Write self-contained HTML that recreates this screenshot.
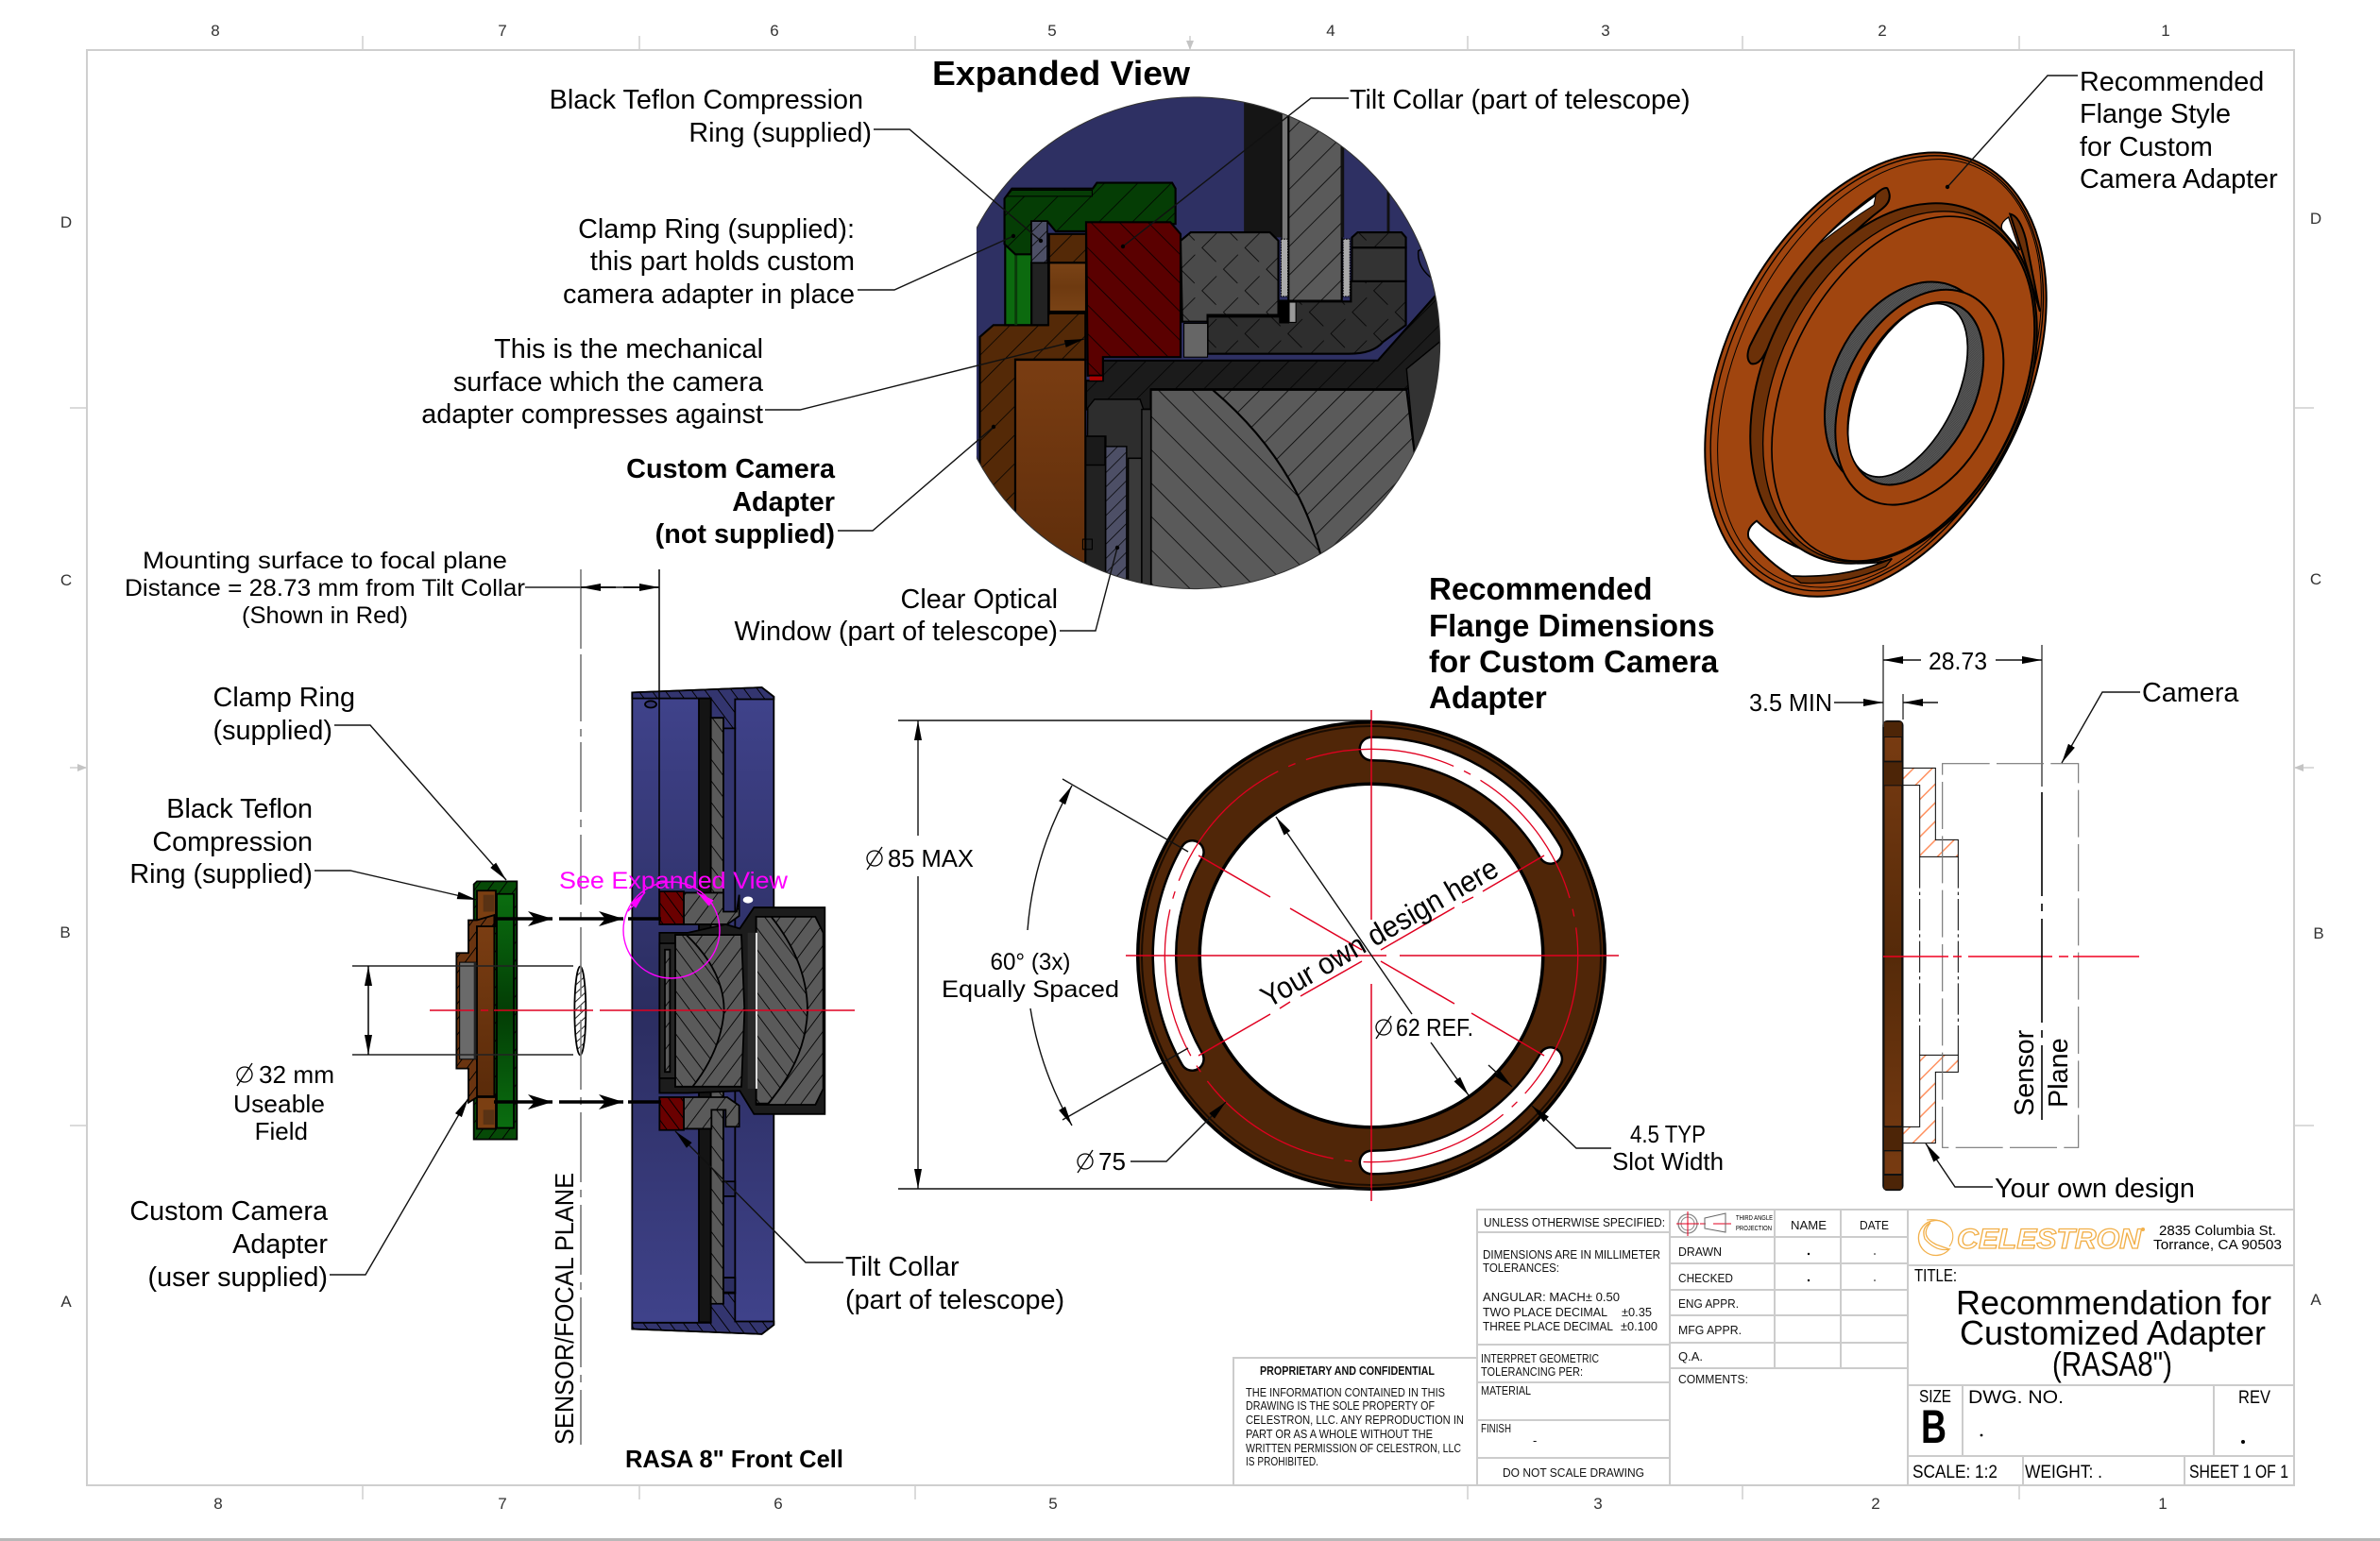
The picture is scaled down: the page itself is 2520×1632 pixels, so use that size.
<!DOCTYPE html>
<html><head><meta charset="utf-8"><title>RASA 8 Adapter Drawing</title>
<style>
html,body{margin:0;padding:0;background:#fff}
svg{display:block}
text{font-family:"Liberation Sans",sans-serif;fill:#000}
.l{font-size:28.8px}
.e{text-anchor:end}
.m{text-anchor:middle}
.b{font-weight:bold}
.z{font-size:17px;fill:#333}
.t{font-size:13px;fill:#111}
.nss *{vector-effect:non-scaling-stroke}
.lead{fill:none;stroke:#111;stroke-width:1.4}
.dia circle{fill:none;stroke:#000;stroke-width:1.3}
.dia line{stroke:#000;stroke-width:1.3}
</style></head><body>
<svg xmlns="http://www.w3.org/2000/svg" width="2520" height="1632" viewBox="0 0 2520 1632">
<defs>
<pattern id="gA" width="70" height="70" patternUnits="userSpaceOnUse" patternTransform="rotate(45)"><rect width="70" height="70" fill="#5a5a5a"/><line x1="0" y1="1" x2="70" y2="1" stroke="#000" stroke-width="2.5"/></pattern>
<pattern id="gB" width="60" height="60" patternUnits="userSpaceOnUse" patternTransform="rotate(-45)"><rect width="60" height="60" fill="#5a5a5a"/><line x1="0" y1="1" x2="60" y2="1" stroke="#000" stroke-width="2.5"/></pattern>
<pattern id="rA" width="60" height="60" patternUnits="userSpaceOnUse" patternTransform="rotate(45)"><rect width="60" height="60" fill="#5a0000"/><line x1="0" y1="1" x2="60" y2="1" stroke="#000" stroke-width="2.5"/></pattern>
<pattern id="grB" width="70" height="70" patternUnits="userSpaceOnUse" patternTransform="rotate(-45)"><rect width="70" height="70" fill="#053d05"/><line x1="0" y1="1" x2="70" y2="1" stroke="#000" stroke-width="2.5"/></pattern>
<pattern id="brB" width="60" height="60" patternUnits="userSpaceOnUse" patternTransform="rotate(-45)"><rect width="60" height="60" fill="#542907"/><line x1="0" y1="1" x2="60" y2="1" stroke="#000" stroke-width="2.5"/></pattern>
<pattern id="kB" width="60" height="60" patternUnits="userSpaceOnUse" patternTransform="rotate(-45)"><rect width="60" height="60" fill="#1b1b1b"/><line x1="0" y1="1" x2="60" y2="1" stroke="#000" stroke-width="2.5"/></pattern>
<pattern id="xG" width="90" height="90" patternUnits="userSpaceOnUse" patternTransform="rotate(45)"><rect width="90" height="90" fill="#4a4a4a"/><line x1="0" y1="1" x2="60" y2="1" stroke="#000" stroke-width="2"/><line x1="1" y1="30" x2="1" y2="90" stroke="#000" stroke-width="2"/></pattern>
<pattern id="xD" width="90" height="90" patternUnits="userSpaceOnUse" patternTransform="rotate(45)"><rect width="90" height="90" fill="#2e2e2e"/><line x1="0" y1="1" x2="60" y2="1" stroke="#000" stroke-width="2"/><line x1="1" y1="30" x2="1" y2="90" stroke="#000" stroke-width="2"/></pattern>
<pattern id="bB" width="30" height="30" patternUnits="userSpaceOnUse" patternTransform="rotate(-45)"><rect width="30" height="30" fill="#4d4f66"/><line x1="0" y1="1" x2="30" y2="1" stroke="#000" stroke-width="2"/></pattern>
<pattern id="gA2" width="36" height="36" patternUnits="userSpaceOnUse" patternTransform="rotate(45)"><rect width="36" height="36" fill="#5a5a5a"/><line x1="0" y1="1" x2="36" y2="1" stroke="#000" stroke-width="2.5"/></pattern>
<pattern id="gB2" width="36" height="36" patternUnits="userSpaceOnUse" patternTransform="rotate(-45)"><rect width="36" height="36" fill="#5a5a5a"/><line x1="0" y1="1" x2="36" y2="1" stroke="#000" stroke-width="2.5"/></pattern>
<pattern id="rA2" width="28" height="28" patternUnits="userSpaceOnUse" patternTransform="rotate(45)"><rect width="28" height="28" fill="#6a0000"/><line x1="0" y1="1" x2="28" y2="1" stroke="#000" stroke-width="3"/></pattern>
<pattern id="nB2" width="30" height="30" patternUnits="userSpaceOnUse" patternTransform="rotate(45)"><rect width="30" height="30" fill="#33356f"/><line x1="0" y1="1" x2="30" y2="1" stroke="#000" stroke-width="3"/></pattern>
<pattern id="grB2" width="30" height="30" patternUnits="userSpaceOnUse" patternTransform="rotate(-45)"><rect width="30" height="30" fill="#064a07"/><line x1="0" y1="1" x2="30" y2="1" stroke="#000" stroke-width="3"/></pattern>
<pattern id="brB2" width="26" height="26" patternUnits="userSpaceOnUse" patternTransform="rotate(-45)"><rect width="26" height="26" fill="#6a3410"/><line x1="0" y1="1" x2="26" y2="1" stroke="#000" stroke-width="3"/></pattern>
<pattern id="el" width="16" height="16" patternUnits="userSpaceOnUse" patternTransform="rotate(-35)"><rect width="16" height="16" fill="#fff"/><line x1="0" y1="1" x2="16" y2="1" stroke="#222" stroke-width="3"/></pattern>
<pattern id="sal" width="42" height="42" patternUnits="userSpaceOnUse" patternTransform="rotate(-45)"><rect width="42" height="42" fill="#fff"/><line x1="0" y1="2" x2="42" y2="2" stroke="#ff9160" stroke-width="5"/></pattern>
<pattern id="thr" width="4" height="4" patternUnits="userSpaceOnUse" patternTransform="rotate(30)"><rect width="4" height="4" fill="#666"/><line x1="0" y1="1" x2="4" y2="1" stroke="#222" stroke-width="1.4"/></pattern>
<linearGradient id="gBrown" x1="0" y1="0" x2="0" y2="1"><stop offset="0" stop-color="#7a3c12"/><stop offset=".5" stop-color="#552a09"/><stop offset="1" stop-color="#7a3c12"/></linearGradient>
<linearGradient id="gBr2" x1="0" y1="0" x2="0" y2="1"><stop offset="0" stop-color="#7a3d12"/><stop offset="1" stop-color="#5a2b0a"/></linearGradient>
<linearGradient id="gBr3" x1="0" y1="0" x2="0" y2="1"><stop offset="0" stop-color="#7a4316"/><stop offset=".5" stop-color="#6e3a10"/><stop offset="1" stop-color="#7a4316"/></linearGradient>
<linearGradient id="gGreen" x1="0" y1="0" x2="0" y2="1"><stop offset="0" stop-color="#0a6e10"/><stop offset=".5" stop-color="#033d05"/><stop offset="1" stop-color="#0a6e10"/></linearGradient>
<linearGradient id="gNavy" x1="0" y1="0" x2="0" y2="1"><stop offset="0" stop-color="#40438c"/><stop offset=".5" stop-color="#2b2d60"/><stop offset="1" stop-color="#40438c"/></linearGradient>
<marker id="a" markerUnits="userSpaceOnUse" markerWidth="22" markerHeight="10" refX="21" refY="5" orient="auto-start-reverse"><path d="M0,1 L21,5 L0,9 Z" fill="#000"/></marker>
<marker id="h" markerUnits="userSpaceOnUse" markerWidth="28" markerHeight="18" refX="26" refY="9" orient="auto"><path d="M0,1 L26,9 L0,17 L7,9 Z" fill="#000"/></marker>
<marker id="d" markerUnits="userSpaceOnUse" markerWidth="6" markerHeight="6" refX="3" refY="3"><circle cx="3" cy="3" r="2.2" fill="#000"/></marker>
<marker id="mg" markerUnits="userSpaceOnUse" markerWidth="20" markerHeight="10" refX="19" refY="5" orient="auto"><path d="M0,1 L19,5 L0,9 Z" fill="#f0f"/></marker>
<clipPath id="cE"><path d="M95,0 H1568 V1568 H95 Z"/></clipPath>
</defs>

<rect width="2520" height="1632" fill="#fff"/>
<!-- frame -->
<rect x="92" y="53" width="2337" height="1520" fill="none" stroke="#cfcfcf" stroke-width="2"/>
<g stroke="#cfcfcf" stroke-width="1.5">
<path d="M384 38V53M677 38V53M969 38V53M1260 38V53M1554 38V53M1845 38V53M2138 38V53"/>
<path d="M384 1573V1588M677 1573V1588M969 1573V1588M1554 1573V1588M1845 1573V1588M2138 1573V1588"/>
<path d="M74 432H92M74 813H92M74 1192H92M2429 432H2450M2429 813H2450M2429 1192H2450"/>
</g>
<path d="M82,809 L92,813 L82,817 Z M2439,809 L2429,813 L2439,817 Z M1256,43 L1260,53 L1264,43 Z" fill="#c4c4c4"/>
<rect x="0" y="1629" width="2520" height="3" fill="#b8b8b8"/>
<g class="z m">
<text x="228" y="38" class="z m">8</text><text x="532" y="38" class="z m">7</text><text x="820" y="38" class="z m">6</text><text x="1114" y="38" class="z m">5</text><text x="1409" y="38" class="z m">4</text><text x="1700" y="38" class="z m">3</text><text x="1993" y="38" class="z m">2</text><text x="2293" y="38" class="z m">1</text>
<text x="231" y="1598" class="z m">8</text><text x="532" y="1598" class="z m">7</text><text x="824" y="1598" class="z m">6</text><text x="1115" y="1598" class="z m">5</text><text x="1692" y="1598" class="z m">3</text><text x="1986" y="1598" class="z m">2</text><text x="2290" y="1598" class="z m">1</text>
<text x="70" y="241" class="z m">D</text><text x="70" y="620" class="z m">C</text><text x="69" y="993" class="z m">B</text><text x="70" y="1384" class="z m">A</text>
<text x="2452" y="237" class="z m">D</text><text x="2452" y="619" class="z m">C</text><text x="2455" y="994" class="z m">B</text><text x="2452" y="1382" class="z m">A</text>
</g>

<!-- EXPANDED VIEW (zoom coords) -->
<g transform="translate(1000,80) scale(.35714)">
<g clip-path="url(#cE)">
<clipPath id="cC"><circle cx="740" cy="793" r="729"/></clipPath>
<g clip-path="url(#cC)" stroke="#000" stroke-width="6">
<rect x="0" y="0" width="1568" height="1568" fill="#2e3063" stroke="none"/>
<rect x="888" y="50" width="112" height="430" fill="#151515" stroke="none"/>
<rect x="1000" y="90" width="20" height="400" fill="#777" stroke-width="3"/>
<rect x="1020" y="90" width="158" height="578" fill="url(#gB)"/>
<rect x="1175" y="180" width="10" height="300" fill="#111" stroke="none"/>
<rect x="1312" y="330" width="8" height="140" fill="#111" stroke="none"/>
<path d="M700,490 L730,465 H965 L990,490 V710 H780 V730 H705 Z" fill="url(#xG)"/>
<path d="M780,715 H1040 V670 H1205 V610 H1368 V740 L1300,790 Q1270,825 1200,825 H780 Z" fill="url(#xD)"/>
<rect x="1208" y="510" width="160" height="100" fill="#333"/>
<path d="M1208,510 V480 L1225,465 H1355 L1368,480 V510 Z" fill="url(#xD)"/>
<rect x="998" y="485" width="20" height="170" fill="#aaa" stroke-dasharray="5 3" stroke-width="3"/>
<rect x="1182" y="485" width="20" height="170" fill="#aaa" stroke-dasharray="5 3" stroke-width="3"/>
<rect x="992" y="665" width="30" height="70" fill="#000" stroke="none"/>
<rect x="1022" y="672" width="20" height="60" fill="#999" stroke-width="3"/>
<rect x="710" y="735" width="70" height="100" fill="#666" stroke-width="3"/>
<path d="M470,845 H1285 L1480,625 V860 L1370,930 H612 V990 H420 V905 H470 Z" fill="url(#kB)"/>
<path d="M1370,870 L1480,780 V1100 L1395,1130 Z" fill="#333" stroke-width="4"/>
<path d="M612,932 H1370 L1395,1130 L1480,1200 V1568 H612 Z" fill="url(#gB)"/>
<path d="M612,932 H795 Q1040,1140 1115,1420 L1040,1568 H612 Z" fill="url(#gA)"/>
<path d="M425,985 L445,960 H580 L600,1020 V1135 H545 V1568 H420 Z" fill="#2d2d2d" stroke-width="4"/>
<rect x="545" y="1135" width="40" height="420" fill="#3a3a3a" stroke-width="4"/>
<rect x="585" y="990" width="27" height="578" fill="#333" stroke-width="4"/>
<rect x="410" y="1070" width="68" height="498" fill="#222" stroke-width="5"/>
<rect x="412" y="1070" width="64" height="85" fill="#1a1a1a" stroke-width="4"/>
<rect x="478" y="1100" width="62" height="468" fill="url(#bB)" stroke-width="4"/>
<path d="M105,775 L145,740 H305 V705 H418 V842 H210 V1350 H105 Z" fill="url(#brB)"/>
<rect x="210" y="843" width="208" height="725" fill="url(#gBr2)"/>
<rect x="180" y="500" width="80" height="240" fill="#0c6a0f"/>
<rect x="208" y="530" width="8" height="210" fill="#0a3a0a" stroke="none"/>
<rect x="258" y="555" width="50" height="185" fill="#222"/>
<rect x="310" y="555" width="110" height="145" fill="url(#gBr3)"/>
<path d="M310,470 H420 V555 H310 Z" fill="url(#brB)"/>
<path d="M178,365 L200,335 H440 L452,318 H675 L685,335 V440 H420 V462 H330 L305,432 H258 V530 H210 L178,500 Z" fill="url(#grB)"/>
<path d="M200,340 H438 V358 H185 Z" fill="#063d06" stroke-width="3"/>
<path d="M258,432 H305 V555 H258 Z" fill="url(#bB)" stroke-width="4"/>
<path d="M420,435 H670 L700,470 V835 H470 V890 H425 Z" fill="url(#rA)"/>
<rect x="430" y="892" width="38" height="12" fill="#a00" stroke="none"/>
<path d="M1405,520 Q1400,570 1450,605 L1500,640 V500 H1440 Z" fill="#2e3063" stroke-width="4"/>
<rect x="410" y="1375" width="28" height="30" fill="none" stroke-width="3"/>
</g>
<circle cx="740" cy="793" r="729" fill="none" stroke="#333" stroke-width="3"/>
</g>
</g>

<!-- ISO flange (zoom coords) -->
<g transform="translate(1780,130) scale(.33333)" stroke="#000" stroke-width="6">
<ellipse cx="618" cy="800" rx="480" ry="749" transform="rotate(26 618 800)" fill="#a0450f"/>
<ellipse cx="622" cy="796" rx="466" ry="735" transform="rotate(26 622 796)" fill="none" stroke-width="4"/>
<ellipse cx="630" cy="796" rx="450" ry="724" transform="rotate(26 630 796)" fill="none" stroke-width="3"/>
<path d="M655,208 Q675,245 640,272 Q430,430 265,735 Q245,772 222,765 Q203,750 218,710 Q370,400 620,225 Q645,203 655,208 Z" fill="#6b3008"/>
<path d="M618,232 Q510,310 430,392 Q520,320 612,262 Z" fill="#fff" stroke-width="3"/>
<path d="M1045,290 Q1075,295 1095,370 L1140,600 L1085,415 Z" fill="#6b3008"/>
<path d="M1040,300 Q1010,320 1020,340 L1075,405 Z" fill="#fff" stroke-width="4"/>
<path d="M240,1265 Q205,1290 215,1320 Q280,1400 350,1440 Q520,1450 670,1385 Q640,1400 560,1400 Q350,1370 240,1265 Z" fill="#fff"/>
<path d="M350,1440 Q520,1450 670,1385 L650,1410 Q520,1470 380,1462 Z" fill="#6b3008" stroke-width="4"/>
<ellipse cx="675" cy="828" rx="412" ry="604" transform="rotate(26 675 828)" fill="#6b3008"/>
<ellipse cx="692" cy="838" rx="385" ry="590" transform="rotate(26 692 838)" fill="#a0450f" stroke-width="4"/>
<ellipse cx="705" cy="845" rx="367" ry="582" transform="rotate(26 705 845)" fill="#a0450f" stroke-width="5"/>
<ellipse cx="718" cy="835" rx="237" ry="348" transform="rotate(26 718 835)" fill="url(#thr)"/>
<ellipse cx="757" cy="872" rx="239" ry="362" transform="rotate(26 757 872)" fill="#a0450f"/>
<ellipse cx="745" cy="860" rx="186" ry="310" transform="rotate(26 745 860)" fill="url(#thr)"/>
<ellipse cx="720" cy="850" rx="154" ry="297" transform="rotate(26 720 850)" fill="#fff" stroke-width="5"/>
</g>

<!-- Leaders for expanded view -->
<g class="lead">
<path d="M925,137 H963 L1102,255" marker-end="url(#d)"/>
<path d="M908,307 H947 L1073,250" marker-end="url(#d)"/>
<path d="M810,434 H847 L1148,359" marker-end="url(#a)"/>
<path d="M887,562 H924 L1052,452" marker-end="url(#d)"/>
<path d="M1428,104 H1388 L1189,261" marker-end="url(#d)"/>
<path d="M1122,668 H1160 L1183,580" marker-end="url(#d)"/>
<path d="M2200,80 H2168 L2062,198" marker-end="url(#d)"/>
</g>

<!-- Front cell and adapter (zoom3 coords) -->
<g transform="translate(470,720) scale(.33333,.44643)" class="nss" stroke="#000" stroke-width="1.8">
<path d="M598,30 L1010,18 L1048,40 V1530 L1010,1552 L598,1540 Z" fill="url(#gNavy)"/>
<path d="M598,30 L1010,18 L1048,40 V46 H925 V115 H848 V44 H598 Z" fill="url(#nB2)"/>
<path d="M598,1540 L1010,1552 L1048,1530 V1522 H925 V1455 H848 V1525 H598 Z" fill="url(#nB2)"/>
<rect x="810" y="44" width="38" height="1480" fill="#141414"/>
<rect x="848" y="90" width="40" height="1390" fill="url(#gA2)"/>
<rect x="888" y="115" width="37" height="1340" fill="#33356f"/>
<rect x="888" y="1190" width="37" height="35" fill="#2c2e60"/>
<rect x="888" y="1418" width="37" height="35" fill="#2c2e60"/>
<ellipse cx="657" cy="58" rx="18" ry="8" fill="#33356f"/>
<path d="M762,505 H888 V550 H930 L938,510 V560 L900,580 H762 Z" fill="url(#gB2)"/>
<path d="M762,990 H900 L938,1010 V1060 H895 V1020 H850 V1065 H762 Z" fill="url(#gB2)"/>
<ellipse cx="966" cy="522" rx="16" ry="8" fill="#fff" stroke="none"/>
<rect x="685" y="502" width="77" height="78" fill="url(#rA2)"/>
<rect x="685" y="990" width="77" height="78" fill="url(#rA2)"/>
<path d="M685,600 H775 L895,580 L940,590 L985,540 H1210 V1030 H985 L940,975 L775,980 H685 Z" fill="#1c1c1c"/>
<path d="M735,605 H945 L955,785 L945,965 H735 Z" fill="url(#gB2)"/>
<path d="M735,605 H770 Q890,690 890,785 Q880,880 790,965 H735 Z" fill="url(#gA2)"/>
<path d="M992,562 H1180 L1205,600 V970 L1180,1008 H992 Z" fill="url(#gB2)"/>
<path d="M992,562 H1040 Q1155,670 1155,785 Q1150,900 1030,1005 H992 Z" fill="url(#gA2)"/>
<rect x="685" y="625" width="50" height="320" fill="#252525"/>
<rect x="702" y="640" width="16" height="290" fill="url(#gB2)"/>
<rect x="965" y="600" width="27" height="370" fill="#2a2a2a" stroke="none"/>
<rect x="990" y="600" width="6" height="370" fill="#ddd" stroke="none"/>
<!-- adapter -->
<path d="M95,485 L105,478 H232 V1090 H95 Z" fill="url(#grB2)"/>
<rect x="168" y="508" width="54" height="555" fill="url(#gGreen)"/>
<rect x="105" y="500" width="60" height="85" fill="#7b3f12"/>
<rect x="105" y="985" width="60" height="80" fill="#7b3f12"/>
<rect x="125" y="510" width="35" height="40" fill="#1a1a1a" opacity=".35" stroke="none"/>
<rect x="125" y="1020" width="35" height="35" fill="#1a1a1a" opacity=".35" stroke="none"/>
<path d="M78,570 H105 L160,558 V585 H105 V905 H160 V990 H105 L78,1003 V922 H40 V648 H78 Z" fill="url(#brB2)"/>
<rect x="105" y="585" width="55" height="403" fill="url(#gBr2)"/>
<rect x="50" y="670" width="52" height="230" fill="#6a6a6a" stroke-width="1"/>
<rect x="95" y="670" width="8" height="230" fill="#222" stroke="none"/>
<ellipse cx="433" cy="785" rx="18" ry="105" fill="url(#el)"/>
</g>

<!-- Sensor line -->
<path d="M615,603 V687 M615,693 V764 M615,772 V780 M615,786 V860 M615,868 V876 M615,884 V958 M615,966 V974 M615,982 V1056 M615,1064 V1072 M615,1080 V1154 M615,1162 V1170 M615,1178 V1252 M615,1260 V1268 M615,1276 V1350 M615,1358 V1366 M615,1374 V1448 M615,1456 V1464 M615,1472 V1530" stroke="#777" stroke-width="1.6" fill="none"/>
<path d="M698,603 V973" stroke="#000" stroke-width="1.5"/>
<path d="M556,622 H698" stroke="#555" stroke-width="2"/>
<path d="M652,622 L615,622" stroke="#000" stroke-width="1.5" marker-end="url(#a)"/>
<path d="M660,622 L698,622" stroke="#000" stroke-width="1.5" marker-end="url(#a)"/>
<path d="M373,1023 H607 M373,1117 H607" stroke="#222" stroke-width="1.5"/>
<path d="M390,1055 V1023" stroke="#000" stroke-width="1.5" marker-end="url(#a)"/>
<path d="M390,1085 V1117" stroke="#000" stroke-width="1.5" marker-end="url(#a)"/>
<path d="M390,1055 V1085" stroke="#000" stroke-width="1.5"/>
<!-- axis -->
<path d="M455,1070 H502 M509,1070 H517 M523,1070 H628 M635,1070 H905" stroke="#e00020" stroke-width="1.5" fill="none"/>
<!-- arrows -->
<g stroke="#000" stroke-width="3.5" fill="none">
<path d="M523,973 H585" marker-end="url(#h)"/>
<path d="M592,973 H660" marker-end="url(#h)"/>
<path d="M665,973 H700"/>
<path d="M523,1167 H585" marker-end="url(#h)"/>
<path d="M592,1167 H660" marker-end="url(#h)"/>
<path d="M665,1167 H700"/>
</g>
<!-- magenta -->
<circle cx="711" cy="985" r="51" fill="none" stroke="#f0f" stroke-width="1.4"/>
<path d="M665,965 L683,945" stroke="#f0f" stroke-width="1.4" marker-end="url(#mg)"/>
<path d="M755,958 L738,945" stroke="#f0f" stroke-width="1.4" marker-end="url(#mg)"/>
<text x="592" y="941" font-size="25" style="fill:#f0f" textLength="242" lengthAdjust="spacingAndGlyphs">See Expanded View</text>

<g class="lead">
<path d="M354,768 H392 L536,932" marker-end="url(#a)"/>
<path d="M333,922 H371 L505,953" marker-end="url(#a)"/>
<path d="M349,1350 H387 L496,1163" marker-end="url(#a)"/>
<path d="M893,1337 H853 L715,1198" marker-end="url(#a)"/>
</g>

<!-- Ring -->
<g>
<circle cx="1452" cy="1012" r="214.5" fill="#fff" stroke="#000" stroke-width="69"/>
<circle cx="1452" cy="1012" r="214.5" fill="none" stroke="#502608" stroke-width="62"/>
<circle cx="1452" cy="1012" r="243" fill="none" stroke="#1a0c02" stroke-width="2"/>
<g fill="none" stroke-linecap="round">
<g stroke="#000" stroke-width="27">
<path d="M1452,793 A219,219 0 0 1 1641.7,902.5"/>
<path d="M1452,1231 A219,219 0 0 0 1641.7,1121.5"/>
<path d="M1262.3,902.5 A219,219 0 0 0 1262.3,1121.5"/>
</g>
<g stroke="#fff" stroke-width="22">
<path d="M1452,793 A219,219 0 0 1 1641.7,902.5"/>
<path d="M1452,1231 A219,219 0 0 0 1641.7,1121.5"/>
<path d="M1262.3,902.5 A219,219 0 0 0 1262.3,1121.5"/>
</g>
</g>
<circle cx="1452" cy="1012" r="218.7" fill="none" stroke="#e00020" stroke-width="1.3" stroke-dasharray="160 12 8 12"/>
<g stroke="#e00020" stroke-width="1.5" fill="none">
<path d="M1192,1012 H1468 M1482,1012 H1714"/>
<path d="M1452,752 V974 M1452,1042 V1272"/>
<path d="M1269,906 L1345,950 M1366,962 L1442,1006 M1462,1018 L1540,1063 M1558,1073 L1635,1118"/>
<path d="M1269,1118 L1345,1074 M1355,1068 L1366,1061 M1377,1055 L1442,1018 M1462,1006 L1540,961 M1548,956 L1560,950 M1570,944 L1635,906"/>
</g>
</g>
<text transform="translate(1343,1068) rotate(-30)" font-size="32" textLength="284" lengthAdjust="spacingAndGlyphs">Your own design here</text>
<g class="lead">
<path d="M1495,1074 L1351,865" marker-end="url(#a)"/>
<path d="M1515,1104 L1555,1160" marker-end="url(#a)"/>
<path d="M1576,1128 L1601,1151" marker-end="url(#a)"/>
<path d="M1706,1216 H1669 L1622,1171" marker-end="url(#a)"/>
<path d="M1197,1230 H1235 L1298,1167" marker-end="url(#a)"/>
<path d="M1125,825 L1258,902 M1125,1186 L1258,1110"/>
<path d="M1135,832 A365,365 0 0 0 1088,985" marker-start="url(#a)"/>
<path d="M1091,1068 A365,365 0 0 0 1135,1192" marker-end="url(#a)"/>
<path d="M951,763 H1452 M951,1259 H1452" stroke-width="1.6"/>
<path d="M972,885 V763" marker-end="url(#a)"/>
<path d="M972,928 V1259" marker-end="url(#a)"/>
</g>

<!-- Side view -->
<g transform="translate(1960,760) scale(.33333)">
<path d="M165,160 H268 V388 H340 V442 H218 V215 H165 Z" fill="url(#sal)" stroke="#000" stroke-width="3"/>
<path d="M218,442 V1072 M340,442 V1072" stroke="#000" stroke-width="3" stroke-dasharray="100 12 10 12" fill="none"/>
<path d="M165,1352 H268 V1126 H340 V1072 H218 V1300 H165 Z" fill="url(#sal)" stroke="#000" stroke-width="3"/>
<rect x="290" y="146" width="432" height="1220" fill="none" stroke="#777" stroke-width="3.5" stroke-dasharray="150 22"/>
<rect x="103" y="12" width="60" height="1488" rx="12" fill="url(#gBrown)" stroke="#111" stroke-width="7"/>
<path d="M103,60 H163 M103,140 H163 M103,214 H163 M103,1300 H163 M103,1375 H163 M103,1452 H163" stroke="#111" stroke-width="6"/>
<rect x="105" y="142" width="56" height="72" fill="#4d2507" stroke="none"/>
<rect x="105" y="1302" width="56" height="72" fill="#4d2507" stroke="none"/>
<rect x="105" y="14" width="56" height="46" fill="#4d2507" stroke="none"/>
<rect x="105" y="1455" width="56" height="43" fill="#4d2507" stroke="none"/>
</g>
<path d="M1994,1013 H2063 M2068,1013 H2077 M2084,1013 H2173 M2180,1013 H2190 M2195,1013 H2265" stroke="#f00020" stroke-width="1.6"/>
<path d="M2162,839 V1186" stroke="#000" stroke-width="1.6" stroke-dasharray="110 8 8 8"/>
<path d="M2162,683 V833" stroke="#777" stroke-width="2"/>
<path d="M1994,683 V770 M2015,735 V762" stroke="#444" stroke-width="1.5"/>
<g class="lead">
<path d="M2034,699 L1994,699" marker-end="url(#a)"/>
<path d="M2113,699 H2162" marker-end="url(#a)"/>
<path d="M1942,744 H1994" marker-end="url(#a)"/>
<path d="M2052,744 H2015" marker-end="url(#a)"/>
<path d="M2266,733 H2226 L2183,808" marker-end="url(#a)"/>
<path d="M2110,1257 H2070 L2039,1211" marker-end="url(#a)"/>
</g>

<!-- Text labels -->
<text x="987" y="90" class="b" font-size="36" textLength="273" lengthAdjust="spacingAndGlyphs">Expanded View</text>
<text x="914" y="115" class="l e">Black Teflon Compression</text>
<text x="923" y="150" class="l e">Ring (supplied)</text>
<text x="1429" y="115" class="l">Tilt Collar (part of telescope)</text>
<text x="2202" y="96" class="l">Recommended</text>
<text x="2202" y="130" class="l">Flange Style</text>
<text x="2202" y="165" class="l">for Custom</text>
<text x="2202" y="199" class="l">Camera Adapter</text>
<text x="905" y="252" class="l e">Clamp Ring (supplied):</text>
<text x="905" y="286" class="l e">this part holds custom</text>
<text x="905" y="321" class="l e">camera adapter in place</text>
<text x="808" y="379" class="l e">This is the mechanical</text>
<text x="808" y="414" class="l e">surface which the camera</text>
<text x="808" y="448" class="l e">adapter compresses against</text>
<text x="884" y="506" class="l e b">Custom Camera</text>
<text x="884" y="541" class="l e b">Adapter</text>
<text x="884" y="575" class="l e b">(not supplied)</text>
<text x="1120" y="644" class="l e">Clear Optical</text>
<text x="1120" y="678" class="l e">Window (part of telescope)</text>
<text x="1513" y="635" class="b" font-size="33">Recommended</text>
<text x="1513" y="674" class="b" font-size="33">Flange Dimensions</text>
<text x="1513" y="712" class="b" font-size="33">for Custom Camera</text>
<text x="1513" y="750" class="b" font-size="33">Adapter</text>
<text x="344" y="602" class="m" font-size="25" textLength="386" lengthAdjust="spacingAndGlyphs">Mounting surface to focal plane</text>
<text x="344" y="631" class="m" font-size="25" textLength="424" lengthAdjust="spacingAndGlyphs">Distance = 28.73 mm from Tilt Collar</text>
<text x="344" y="660" class="m" font-size="25" textLength="176" lengthAdjust="spacingAndGlyphs">(Shown in Red)</text>
<text x="376" y="748" class="l e">Clamp Ring</text>
<text x="352" y="783" class="l e">(supplied)</text>
<text x="331" y="866" class="l e">Black Teflon</text>
<text x="331" y="901" class="l e">Compression</text>
<text x="331" y="935" class="l e">Ring (supplied)</text>
<g class="dia"><circle cx="259" cy="1138" r="8"/><line x1="251" y1="1150" x2="267" y2="1126"/>
<circle cx="926" cy="909" r="8"/><line x1="918" y1="921" x2="934" y2="897"/>
<circle cx="1149" cy="1230" r="8"/><line x1="1141" y1="1242" x2="1157" y2="1218"/>
<circle cx="1465" cy="1088" r="8"/><line x1="1457" y1="1100" x2="1473" y2="1076"/></g>
<text x="354" y="1147" class="e" font-size="26" textLength="80" lengthAdjust="spacingAndGlyphs">32 mm</text>
<text x="344" y="1178" class="e" font-size="26" textLength="97" lengthAdjust="spacingAndGlyphs">Useable</text>
<text x="326" y="1207" class="e" font-size="26">Field</text>
<text x="347" y="1292" class="l e">Custom Camera</text>
<text x="347" y="1327" class="l e">Adapter</text>
<text x="347" y="1362" class="l e">(user supplied)</text>
<text transform="translate(607,1530) rotate(-90)" font-size="28" textLength="288" lengthAdjust="spacingAndGlyphs">SENSOR/FOCAL PLANE</text>
<text x="662" y="1554" class="b" font-size="26" textLength="231" lengthAdjust="spacingAndGlyphs">RASA 8" Front Cell</text>
<text x="895" y="1351" class="l">Tilt Collar</text>
<text x="895" y="1386" class="l">(part of telescope)</text>
<text x="940" y="918" font-size="26" textLength="91" lengthAdjust="spacingAndGlyphs">85 MAX</text>
<text x="1163" y="1239" font-size="26">75</text>
<text x="1478" y="1097" font-size="26" textLength="82" lengthAdjust="spacingAndGlyphs">62 REF.</text>
<text x="1091" y="1027" class="m" font-size="25" textLength="85" lengthAdjust="spacingAndGlyphs">60° (3x)</text>
<text x="1091" y="1056" class="m" font-size="25" textLength="188" lengthAdjust="spacingAndGlyphs">Equally Spaced</text>
<text x="1726" y="1210" font-size="26" textLength="80" lengthAdjust="spacingAndGlyphs">4.5 TYP</text>
<text x="1707" y="1239" font-size="26" textLength="118" lengthAdjust="spacingAndGlyphs">Slot Width</text>
<text x="2073" y="709" class="m" font-size="26" textLength="62" lengthAdjust="spacingAndGlyphs">28.73</text>
<text x="1940" y="753" class="e" font-size="26" textLength="88" lengthAdjust="spacingAndGlyphs">3.5 MIN</text>
<text x="2268" y="743" class="l">Camera</text>
<text x="2112" y="1268" class="l">Your own design</text>
<text transform="translate(2153,1182) rotate(-90)" class="l">Sensor</text>
<text transform="translate(2189,1173) rotate(-90)" class="l">Plane</text>

<!-- Title block -->
<rect x="1306" y="1438" width="258" height="135" fill="#fff" stroke="#ccc" stroke-width="2"/>
<rect x="1564" y="1281" width="865" height="292" fill="#fff" stroke="#ccc" stroke-width="2"/>
<g stroke="#ccc" stroke-width="2" fill="none">
<path d="M1768,1281 V1573 M1879,1281 V1449 M1949,1281 V1449 M2020,1281 V1573"/>
<path d="M1564,1305 H1768 M1564,1424 H1768 M1564,1464 H1768 M1564,1504 H1768 M1564,1544 H1768"/>
<path d="M1768,1310 H2020 M1768,1338 H2020 M1768,1366 H2020 M1768,1393 H2020 M1768,1422 H2020 M1768,1449 H2020"/>
<path d="M2020,1340 H2429 M2020,1467 H2429 M2020,1542 H2429 M2078,1467 V1542 M2344,1467 V1542 M2142,1542 V1573 M2313,1542 V1573"/>
</g>
<g class="t">
<text x="1571" y="1299" class="t" textLength="192" lengthAdjust="spacingAndGlyphs">UNLESS OTHERWISE SPECIFIED:</text>
<text x="1570" y="1333" class="t" textLength="188" lengthAdjust="spacingAndGlyphs">DIMENSIONS ARE IN MILLIMETER</text>
<text x="1570" y="1347" class="t" textLength="81" lengthAdjust="spacingAndGlyphs">TOLERANCES:</text>
<text x="1570" y="1378" class="t" textLength="145" lengthAdjust="spacingAndGlyphs">ANGULAR: MACH± 0.50</text>
<text x="1570" y="1394" class="t" textLength="132" lengthAdjust="spacingAndGlyphs">TWO PLACE DECIMAL</text><text x="1717" y="1394" class="t" textLength="32" lengthAdjust="spacingAndGlyphs">±0.35</text>
<text x="1570" y="1409" class="t" textLength="138" lengthAdjust="spacingAndGlyphs">THREE PLACE DECIMAL</text><text x="1716" y="1409" class="t" textLength="39" lengthAdjust="spacingAndGlyphs">±0.100</text>
<text x="1568" y="1443" class="t" textLength="125" lengthAdjust="spacingAndGlyphs">INTERPRET GEOMETRIC</text>
<text x="1568" y="1457" class="t" textLength="108" lengthAdjust="spacingAndGlyphs">TOLERANCING PER:</text>
<text x="1568" y="1477" class="t" textLength="53" lengthAdjust="spacingAndGlyphs">MATERIAL</text>
<text x="1568" y="1517" class="t" textLength="32" lengthAdjust="spacingAndGlyphs">FINISH</text>
<text x="1623" y="1530" class="t">-</text>
<text x="1591" y="1564" class="t" textLength="150" lengthAdjust="spacingAndGlyphs">DO NOT SCALE DRAWING</text>
<text x="1334" y="1456" class="t b" textLength="185" lengthAdjust="spacingAndGlyphs">PROPRIETARY AND CONFIDENTIAL</text>
<text x="1319" y="1479" class="t" textLength="211" lengthAdjust="spacingAndGlyphs">THE INFORMATION CONTAINED IN THIS</text>
<text x="1319" y="1493" class="t" textLength="200" lengthAdjust="spacingAndGlyphs">DRAWING IS THE SOLE PROPERTY OF</text>
<text x="1319" y="1508" class="t" textLength="231" lengthAdjust="spacingAndGlyphs">CELESTRON, LLC.  ANY REPRODUCTION IN</text>
<text x="1319" y="1523" class="t" textLength="198" lengthAdjust="spacingAndGlyphs">PART OR AS A WHOLE WITHOUT THE</text>
<text x="1319" y="1538" class="t" textLength="228" lengthAdjust="spacingAndGlyphs">WRITTEN PERMISSION OF CELESTRON, LLC</text>
<text x="1319" y="1552" class="t" textLength="77" lengthAdjust="spacingAndGlyphs">IS PROHIBITED.</text>
<text x="1838" y="1292" font-size="7" textLength="39" lengthAdjust="spacingAndGlyphs">THIRD ANGLE</text>
<text x="1838" y="1303" font-size="7" textLength="38" lengthAdjust="spacingAndGlyphs">PROJECTION</text>
<text x="1896" y="1302" class="t" textLength="38" lengthAdjust="spacingAndGlyphs">NAME</text>
<text x="1969" y="1302" class="t" textLength="31" lengthAdjust="spacingAndGlyphs">DATE</text>
<text x="1777" y="1330" class="t" textLength="46" lengthAdjust="spacingAndGlyphs">DRAWN</text>
<text x="1777" y="1358" class="t" textLength="58" lengthAdjust="spacingAndGlyphs">CHECKED</text>
<text x="1777" y="1385" class="t" textLength="64" lengthAdjust="spacingAndGlyphs">ENG APPR.</text>
<text x="1777" y="1413" class="t" textLength="67" lengthAdjust="spacingAndGlyphs">MFG APPR.</text>
<text x="1777" y="1441" class="t" textLength="26" lengthAdjust="spacingAndGlyphs">Q.A.</text>
<text x="1777" y="1465" class="t" textLength="74" lengthAdjust="spacingAndGlyphs">COMMENTS:</text>
</g>
<g fill="#000"><circle cx="1915" cy="1328" r="1.2"/><circle cx="1985" cy="1328" r=".8"/><circle cx="1915" cy="1356" r="1.2"/><circle cx="1985" cy="1356" r=".8"/></g>
<circle cx="1787" cy="1296" r="10" fill="none" stroke="#888" stroke-width="1.3"/><circle cx="1787" cy="1296" r="7" fill="none" stroke="#888" stroke-width="1"/>
<path d="M1775,1296 H1799 M1787,1283 V1309 M1800,1296 H1806 M1814,1296 H1833" stroke="#e00020" stroke-width="1"/>
<path d="M1805,1290 L1827,1285 V1305 L1805,1301 Z" fill="none" stroke="#666" stroke-width="1"/>
<!-- Logo -->
<path d="M2062,1297 A18.5,18.5 0 1 0 2064,1323 Q2050,1326 2038,1312 Q2034,1300 2044,1295 Q2032,1309 2050,1318 L2064,1323" fill="none" stroke="#f2b04a" stroke-width="1.3"/>
<path d="M2040,1292 Q2056,1290 2065,1300 A17,17 0 0 1 2064,1320" fill="none" stroke="#f2b04a" stroke-width="1.1"/>
<text x="2072" y="1322" font-size="30" font-style="italic" font-weight="bold" style="fill:#fff;stroke:#f2b04a;stroke-width:1.3" textLength="195" lengthAdjust="spacingAndGlyphs">CELESTRON</text>
<circle cx="2269" cy="1302" r="2" fill="#f2b04a"/>
<text x="2286" y="1308" font-size="14.5" textLength="124" lengthAdjust="spacingAndGlyphs">2835 Columbia St.</text>
<text x="2280" y="1323" font-size="14.5" textLength="136" lengthAdjust="spacingAndGlyphs">Torrance, CA 90503</text>
<text x="2027" y="1357" font-size="18" textLength="45" lengthAdjust="spacingAndGlyphs">TITLE:</text>
<text x="2071" y="1392" font-size="36" textLength="334" lengthAdjust="spacingAndGlyphs">Recommendation for</text>
<text x="2075" y="1424" font-size="36" textLength="324" lengthAdjust="spacingAndGlyphs">Customized Adapter</text>
<text x="2173" y="1457" font-size="36" textLength="127" lengthAdjust="spacingAndGlyphs">(RASA8")</text>
<text x="2032" y="1485" font-size="18" textLength="34" lengthAdjust="spacingAndGlyphs">SIZE</text>
<text x="2034" y="1528" font-size="50" font-weight="bold" textLength="27" lengthAdjust="spacingAndGlyphs">B</text>
<text x="2084" y="1486" font-size="19" textLength="101" lengthAdjust="spacingAndGlyphs">DWG.  NO.</text>
<text x="2370" y="1486" font-size="19" textLength="34" lengthAdjust="spacingAndGlyphs">REV</text>
<circle cx="2098" cy="1520" r="1.4" fill="#000"/><circle cx="2375" cy="1527" r="2" fill="#000"/>
<text x="2025" y="1565" font-size="19" textLength="90" lengthAdjust="spacingAndGlyphs">SCALE: 1:2</text>
<text x="2144" y="1565" font-size="19" textLength="82" lengthAdjust="spacingAndGlyphs">WEIGHT: .</text>
<text x="2318" y="1565" font-size="19" textLength="105" lengthAdjust="spacingAndGlyphs">SHEET 1 OF 1</text>
</svg>
</body></html>
